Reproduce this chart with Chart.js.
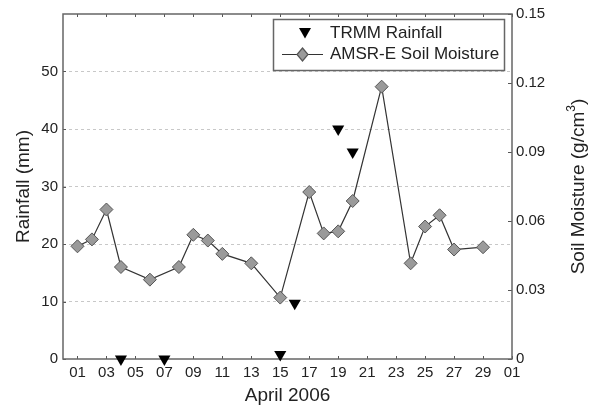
<!DOCTYPE html>
<html>
<head>
<meta charset="utf-8">
<script src="https://cdn.jsdelivr.net/npm/chart.js@4.4.1/dist/chart.umd.min.js"></script>
<style>
  html, body { margin: 0; padding: 0; background: #fff; }
  #wrap { width: 590px; height: 410px; position: relative; }
</style>
</head>
<body>
<div id="wrap"><canvas id="chart"></canvas></div>
<script>
// April 2006 days
const moistureDays = [1, 2, 3, 4, 6, 8, 9, 10, 11, 13, 15, 17, 18, 19, 20, 22, 24, 25, 26, 27, 29];
const moistureValues = [0.049, 0.052, 0.065, 0.040, 0.0345, 0.040, 0.054, 0.0515, 0.0457, 0.0416, 0.0267,
  0.0726, 0.0546, 0.0555, 0.0687, 0.1184, 0.0416, 0.0576, 0.0625, 0.0476, 0.0486];

const rainDays = [4, 7, 15, 16, 19, 20];
const rainValues = [0, 0, 0.8, 9.7, 40, 36];

const dayTicks = [1, 3, 5, 7, 9, 11, 13, 15, 17, 19, 21, 23, 25, 27, 29, 31];
const dayLabels = ['01', '03', '05', '07', '09', '11', '13', '15', '17', '19', '21', '23', '25', '27', '29', '01'];

const rainTicks = [0, 10, 20, 30, 40, 50];
const moistureTicks = [0, 0.03, 0.06, 0.09, 0.12, 0.15];

const FONT = "'Liberation Sans', Arial, sans-serif";
const TEXT = '#222';

// frame, inward tick marks, legend box and right axis title
const framePlugin = {
  id: 'frame',
  beforeDatasetsDraw(chart) {
    const { ctx, chartArea: a, scales } = chart;
    ctx.save();
    ctx.strokeStyle = '#555';
    ctx.lineWidth = 1;
    ctx.beginPath();
    dayTicks.forEach(d => {
      const x = Math.round(scales.x.getPixelForValue(d)) + 0.5;
      ctx.moveTo(x, a.bottom); ctx.lineTo(x, a.bottom - 3);
      ctx.moveTo(x, a.top); ctx.lineTo(x, a.top + 3);
    });
    rainTicks.forEach(v => {
      const y = Math.round(scales.y.getPixelForValue(v)) + 0.5;
      ctx.moveTo(a.left, y); ctx.lineTo(a.left + 3, y);
    });
    moistureTicks.forEach(v => {
      const y = Math.round(scales.y1.getPixelForValue(v)) + 0.5;
      ctx.moveTo(a.right, y); ctx.lineTo(a.right - 4, y);
    });
    ctx.stroke();
    ctx.strokeStyle = '#666';
    ctx.lineWidth = 1.5;
    ctx.strokeRect(a.left, a.top, a.right - a.left, a.bottom - a.top);
    ctx.restore();
  },
  afterDraw(chart) {
    const { ctx, chartArea: a } = chart;
    ctx.save();
    // legend box
    ctx.fillStyle = '#fff';
    ctx.fillRect(273.5, 19.5, 231, 51);
    ctx.strokeStyle = '#666';
    ctx.lineWidth = 1.5;
    ctx.strokeRect(273.5, 19.5, 231, 51);
    ctx.fillStyle = '#000';
    ctx.beginPath();
    ctx.moveTo(299, 28); ctx.lineTo(311, 28); ctx.lineTo(305, 38.5);
    ctx.closePath(); ctx.fill();
    ctx.strokeStyle = '#333';
    ctx.lineWidth = 1.2;
    ctx.beginPath(); ctx.moveTo(282, 54.5); ctx.lineTo(323, 54.5); ctx.stroke();
    ctx.fillStyle = '#9a9a9a';
    ctx.strokeStyle = '#555';
    ctx.beginPath();
    ctx.moveTo(302.5, 48); ctx.lineTo(308, 54.5); ctx.lineTo(302.5, 61); ctx.lineTo(297, 54.5);
    ctx.closePath(); ctx.fill(); ctx.stroke();
    ctx.fillStyle = TEXT;
    ctx.font = '17px ' + FONT;
    ctx.textBaseline = 'middle';
    ctx.fillText('TRMM Rainfall', 330, 33.5);
    ctx.fillText('AMSR-E Soil Moisture', 330, 54.5);

    // right axis title, reading bottom to top, with superscript
    const main = 'Soil Moisture (g/cm';
    const sup = '3';
    const close = ')';
    ctx.font = '19px ' + FONT;
    const wMain = ctx.measureText(main).width;
    const wClose = ctx.measureText(close).width;
    ctx.font = '12px ' + FONT;
    const wSup = ctx.measureText(sup).width;
    const total = wMain + wSup + wClose;
    ctx.translate(579, (a.top + a.bottom) / 2);
    ctx.rotate(-Math.PI / 2);
    ctx.textAlign = 'left';
    ctx.textBaseline = 'middle';
    let x0 = -total / 2;
    ctx.font = '19px ' + FONT;
    ctx.fillText(main, x0, 0);
    ctx.font = '12px ' + FONT;
    ctx.fillText(sup, x0 + wMain, -7);
    ctx.font = '19px ' + FONT;
    ctx.fillText(close, x0 + wMain + wSup, 0);
    ctx.restore();
  }
};

new Chart(document.getElementById('chart'), {
  type: 'line',
  data: {
    datasets: [
      {
        label: 'AMSR-E Soil Moisture',
        data: moistureDays.map((d, i) => ({ x: d, y: moistureValues[i] })),
        yAxisID: 'y1',
        borderColor: '#333',
        borderWidth: 1.2,
        pointStyle: 'rectRot',
        pointRadius: 6.5,
        pointBackgroundColor: '#9a9a9a',
        pointBorderColor: '#555',
        pointBorderWidth: 1,
        tension: 0
      },
      {
        label: 'TRMM Rainfall',
        data: rainDays.map((d, i) => ({ x: d, y: rainValues[i] })),
        yAxisID: 'y',
        showLine: false,
        pointStyle: 'triangle',
        rotation: 180,
        pointRadius: 7,
        pointBackgroundColor: '#000',
        pointBorderColor: '#000',
        pointBorderWidth: 0,
        clip: false
      }
    ]
  },
  options: {
    responsive: true,
    maintainAspectRatio: false,
    devicePixelRatio: 1,
    animation: false,
    layout: { padding: { top: 12, left: 0, right: 0, bottom: 0 } },
    plugins: { legend: { display: false }, tooltip: { enabled: false } },
    scales: {
      x: {
        type: 'linear',
        min: 0,
        max: 31,
        afterBuildTicks: s => { s.ticks = dayTicks.map(v => ({ value: v })); },
        afterFit: s => { s.height = 51; },
        grid: { display: false, drawTicks: false },
        border: { display: false },
        ticks: {
          color: TEXT, padding: 5, maxRotation: 0, autoSkip: false,
          font: { family: FONT, size: 15 },
          callback: (v, i) => dayLabels[i]
        },
        title: {
          display: true, text: 'April 2006', color: TEXT,
          font: { family: FONT, size: 19 }, padding: { top: 0, bottom: 3 }
        }
      },
      y: {
        position: 'left',
        min: 0,
        max: 60,
        afterBuildTicks: s => { s.ticks = rainTicks.map(v => ({ value: v })); },
        afterFit: s => { s.width = 63; },
        grid: {
          drawTicks: false,
          color: ctx => (ctx.tick && ctx.tick.value > 0 && ctx.tick.value < 60) ? '#c8c8c8' : 'rgba(0,0,0,0)',
          lineWidth: 1
        },
        border: { display: false, dash: [3, 3] },
        ticks: { color: TEXT, padding: 5, font: { family: FONT, size: 15 } },
        title: {
          display: true, text: 'Rainfall (mm)', color: TEXT,
          font: { family: FONT, size: 19 }, padding: { top: 12, bottom: 0 }
        }
      },
      y1: {
        position: 'right',
        min: 0,
        max: 0.15,
        afterBuildTicks: s => { s.ticks = moistureTicks.map(v => ({ value: v })); },
        afterFit: s => { s.width = 78; },
        grid: { display: false, drawTicks: false },
        border: { display: false },
        ticks: {
          color: TEXT, padding: 4, font: { family: FONT, size: 15 },
          callback: v => v === 0 ? '0' : v.toFixed(2)
        }
      }
    }
  },
  plugins: [framePlugin]
});
</script>
</body>
</html>
